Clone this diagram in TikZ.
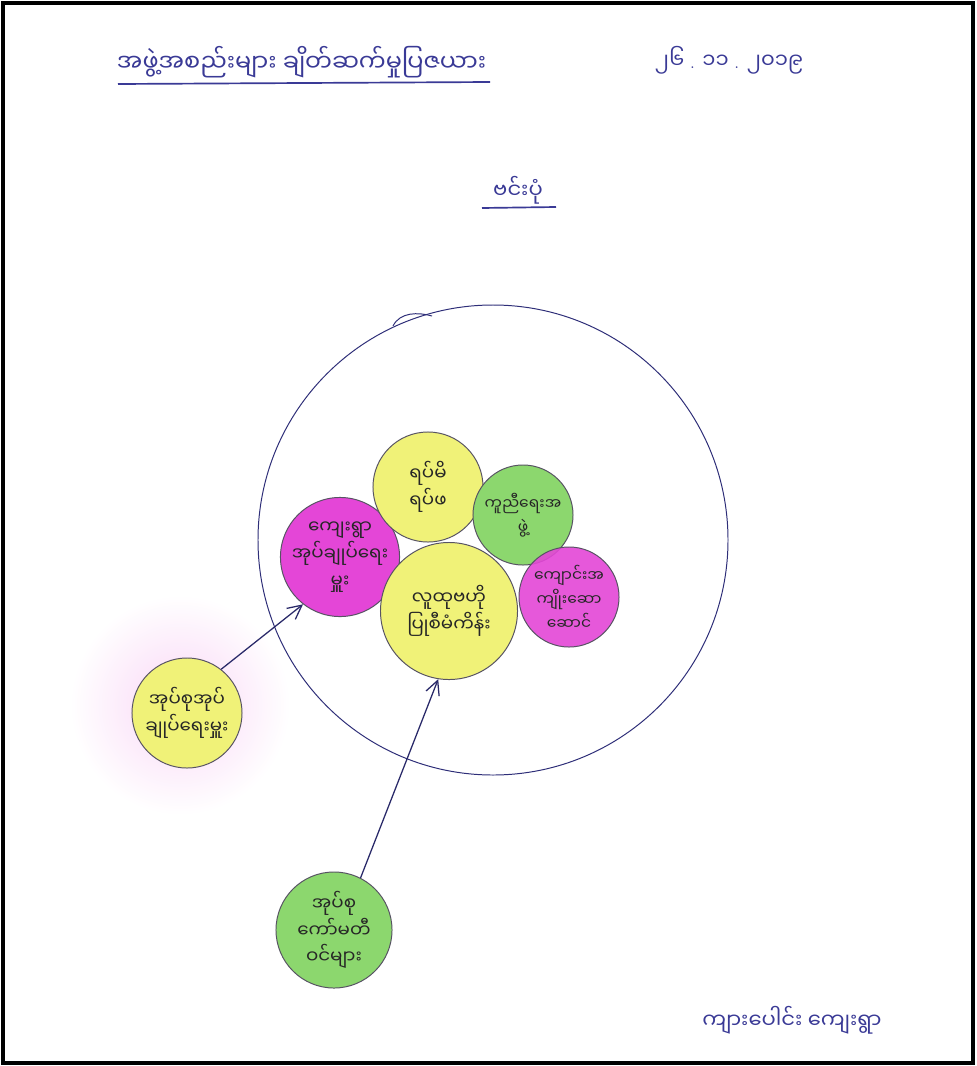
\documentclass[tikz,border=0pt]{standalone}
\usepackage{fontspec}
\newfontfamily\mmfont[Script=Myanmar]{Noto Sans Myanmar UI}
\usetikzlibrary{arrows.meta}
\definecolor{ink}{RGB}{58,58,150}
\definecolor{pen}{RGB}{45,40,60}
\definecolor{yel}{RGB}{240,242,120}
\definecolor{grn}{RGB}{140,215,110}
\definecolor{pnk}{RGB}{228,70,215}
\tikzset{
	bubble/.style={circle, draw=pen!80, line width=0.7pt, inner sep=0pt, align=center,
		font=\mmfont\fontsize{13}{19}\selectfont, text=black!85},
	smalltext/.style={font=\mmfont\fontsize{11}{17}\selectfont},
	inkline/.style={draw=ink, line width=0.9pt},
	arr/.style={draw=ink!70!black, line width=0.9pt, -{Straight Barb[length=3.5mm, width=3.5mm]}},
}
\newcommand{\dt}{{\rmfamily .}}
\begin{document}
\begin{tikzpicture}[x=0.025cm, y=-0.025cm]
		\useasboundingbox (0,0) rectangle (976,1066);
		\fill[white] (0,0) rectangle (976,1066);
		\draw[line width=3.5pt] (3,3) rectangle (973,1063);
		
		% heading
		\node[text=ink, font=\mmfont\fontsize{17}{20}\selectfont, anchor=west] (title) at (112,62) {အဖွဲ့အစည်းများ ချိတ်ဆက်မှုပြဇယား};
		\draw[inkline, line width=1.2pt] (118,84) -- (490,82);
		\node[text=ink, font=\mmfont\fontsize{15}{18}\selectfont, anchor=west] (date) at (650,60) {၂၆ \dt{} ၁၁ \dt{} ၂၀၁၉};
		\node[text=ink, font=\mmfont\fontsize{15}{18}\selectfont] (venn) at (518,190) {ဗင်းပုံ};
		\draw[inkline, line width=1.2pt] (482,208) -- (556,207);
		
		% halo
		\shade[inner color=pnk!22, outer color=white] (180,705) circle (110);
		
		% outer ring
		\coordinate (ring) at (493,540);
		\draw[draw=ink!80!black, line width=0.7pt] (ring) circle (235);
		\draw[draw=ink!80!black, line width=0.7pt] (393,326) .. controls (400,312) and (418,312) .. (432,316);
		
		% circles inside
		\node[bubble, fill=pnk, minimum size=2.875cm] (ayrwa) at (340,557) {ကျေးရွာ\\အုပ်ချုပ်ရေး\\မှူး};
		\node[bubble, fill=yel, minimum size=2.75cm] (rapmi) at (428,487) {ရပ်မိ\\ရပ်ဖ};
		\node[bubble, smalltext, fill=grn, minimum size=2.5cm] (kuni) at (523,515) {ကူညီရေးအ\\ဖွဲ့};
		\node[bubble, smalltext, fill=pnk, fill opacity=0.9, text opacity=1, minimum size=2.5cm] (kyaung) at (569,597) {ကျောင်းအ\\ကျိုးဆော\\ဆောင်};
		\node[bubble, fill=yel, minimum size=3.425cm] (luthu) at (449,611) {လူထုဗဟို\\ပြုစီမံကိန်း};
		
		% circles outside
		\node[bubble, fill=yel, minimum size=2.75cm] (okesu) at (187,713) {အုပ်စုအုပ်\\ချုပ်ရေးမှူး};
		\node[bubble, fill=grn, minimum size=2.9cm] (komati) at (334,930) {အုပ်စု\\ကော်မတီ\\ဝင်များ};
		
		\draw[arr] (okesu.52) -- (ayrwa.232);
		\draw[arr] (komati.63) -- (luthu.261);
		
		\node[text=ink, font=\mmfont\fontsize{15}{18}\selectfont] (ywa) at (792,1020) {ကျားပေါင်း ကျေးရွာ};
	\end{tikzpicture}
\end{document}
